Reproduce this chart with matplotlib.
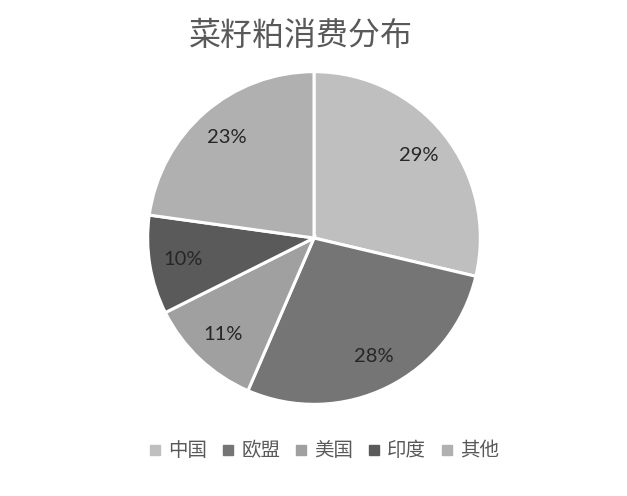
import matplotlib
matplotlib.use("Agg")
import matplotlib.pyplot as plt
from matplotlib.lines import Line2D
import numpy as np

categories = ["中国", "欧盟", "美国", "印度", "其他"]
values = [28.7, 27.8, 11.1, 9.6, 22.8]
pct_labels = ["29%", "28%", "11%", "10%", "23%"]
colors = ["#bfbfbf", "#757575", "#a0a0a0", "#5a5a5a", "#b0b0b0"]
title = "菜籽粕消费分布"

plt.rcParams['font.family'] = ['Noto Sans CJK SC', 'DejaVu Sans']

W, H = 627, 496
fig = plt.figure(figsize=(W / 100, H / 100), dpi=100)
cx, cy, r = 314, 238, 168
ax = fig.add_axes([(cx - r) / W, (H - cy - r) / H, 2 * r / W, 2 * r / H])

wedges, texts = ax.pie(values, colors=colors, startangle=90, counterclock=False,
                       radius=1, wedgeprops=dict(edgecolor="white", linewidth=2.2))
total = sum(values)
ang = 90
for v, lab in zip(values, pct_labels):
    mid = ang - v / total * 360 / 2
    ang -= v / total * 360
    d = 0.8
    ax.text(d * np.cos(np.radians(mid)), d * np.sin(np.radians(mid)), lab,
            ha="center", va="center", fontsize=14.5, color="#262626",
            family=["Lato", "DejaVu Sans"])
ax.set_xlim(-1.01, 1.01)
ax.set_ylim(-1.01, 1.01)
ax.set_aspect("equal")
ax.axis("off")

fig.text(301 / W, 1 - 36 / H, title, ha="center", va="center", fontsize=23, color="#595959")

handles = [Line2D([], [], marker="s", linestyle="none", markersize=6.5,
                  markerfacecolor=c, markeredgecolor=c) for c in colors]
fig.legend(handles, categories, loc="center", bbox_to_anchor=(324 / W, 1 - 451 / H),
           ncol=5, frameon=False, fontsize=14, labelcolor="#595959",
           handlelength=0.6, handletextpad=0.4, columnspacing=0.75)

fig.savefig("out.png", dpi=100, facecolor="white")
